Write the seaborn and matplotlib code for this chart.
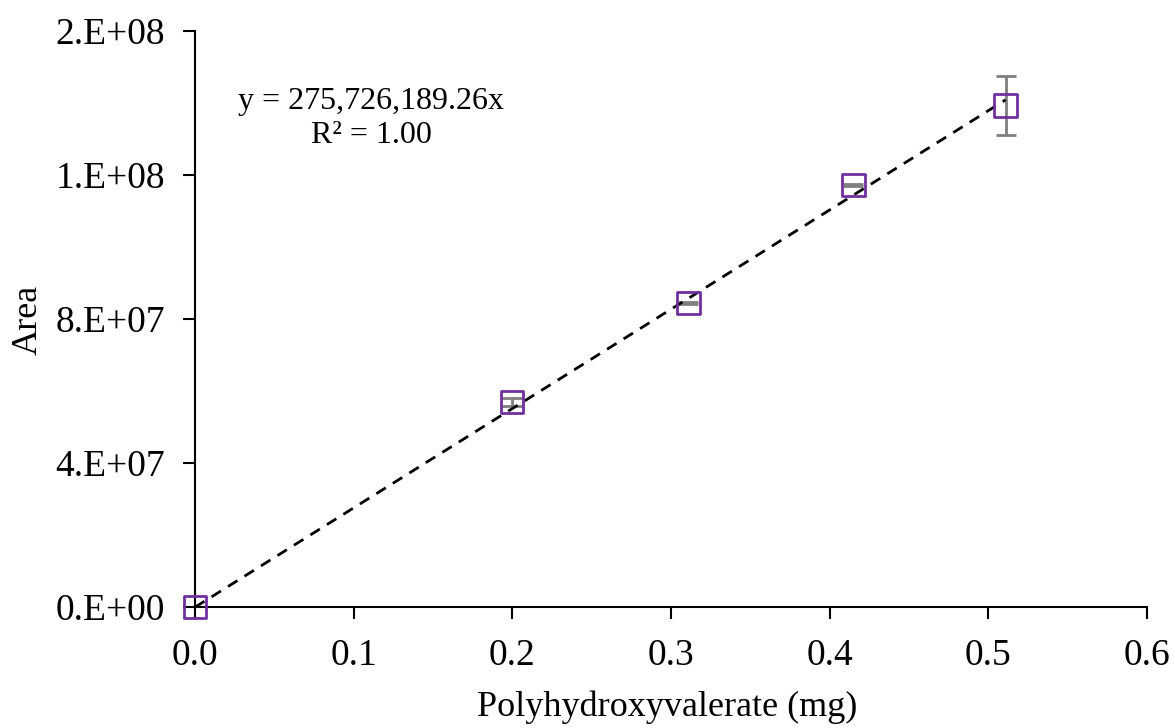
import matplotlib
matplotlib.use("Agg")
import matplotlib.pyplot as plt
import seaborn as sns
import numpy as np
import pandas as pd

x_mg = [0.0, 0.200, 0.311, 0.415, 0.511]
area = [0.0, 5.70e7, 8.45e7, 1.173e8, 1.393e8]
area_err = [0.0, 1.1e6, 0.3e6, 0.3e6, 8.3e6]
slope = 275726189.26
x_ticks = [0.0, 0.1, 0.2, 0.3, 0.4, 0.5, 0.6]
y_ticks = [0.0, 4e7, 8e7, 1.2e8, 1.6e8]
y_labels = ["0.E+00", "4.E+07", "8.E+07", "1.E+08", "2.E+08"]

sns.set_theme(style="white")
plt.rcParams['font.family'] = ['Liberation Serif', 'DejaVu Serif']

fig = plt.figure(figsize=(11.75, 7.28), dpi=100)
ax = fig.add_axes([0.166, 0.166, 0.810, 0.7914])

df = pd.DataFrame({"x": x_mg, "y": area})
fit = pd.DataFrame({"x": [0.0, max(x_mg)], "y": [0.0, slope * max(x_mg)]})

ax.errorbar(x_mg, area, yerr=area_err, fmt='none', ecolor='#7f7f7f',
            elinewidth=2, capsize=7, capthick=2, zorder=2)
sns.lineplot(data=fit, x="x", y="y", ax=ax, color='black', linestyle=(0, (4, 3)),
             linewidth=2, zorder=3)
sns.scatterplot(data=df, x="x", y="y", ax=ax, marker='s', s=260,
                facecolor='none', edgecolor='#7030A0', linewidth=2, zorder=4)
for c in ax.collections:
    c.set_clip_on(False)

ax.set_xlim(0, 0.6)
ax.set_ylim(0, 1.6e8)
ax.set_xticks(x_ticks)
ax.set_xticklabels([f"{t:.1f}" for t in x_ticks])
ax.set_yticks(y_ticks)
ax.set_yticklabels(y_labels)
ax.tick_params(axis='both', labelsize=27, length=8.5, width=1.5, direction='out',
               colors='black', bottom=True, left=True)
ax.tick_params(axis='x', pad=14)
ax.tick_params(axis='y', pad=13)
for s in ['top', 'right']:
    ax.spines[s].set_visible(False)
for s in ['left', 'bottom']:
    ax.spines[s].set_color('black')
    ax.spines[s].set_linewidth(1.5)

ax.set_xlabel("Polyhydroxyvalerate (mg)", fontsize=26, color='black')
ax.set_ylabel("Area", fontsize=26, color='black')
ax.xaxis.label.set_va('baseline')
ax.yaxis.label.set_va('baseline')
ax.xaxis.set_label_coords(0.496, -0.189)
ax.yaxis.set_label_coords(-0.166, 0.498)

ax.text(0.185, 0.848, "y = 275,726,189.26x\nR² = 1.00", transform=ax.transAxes,
        fontsize=23, ha='center', va='center', linespacing=1.2, color='black')

fig.savefig("out.png", dpi=100)
